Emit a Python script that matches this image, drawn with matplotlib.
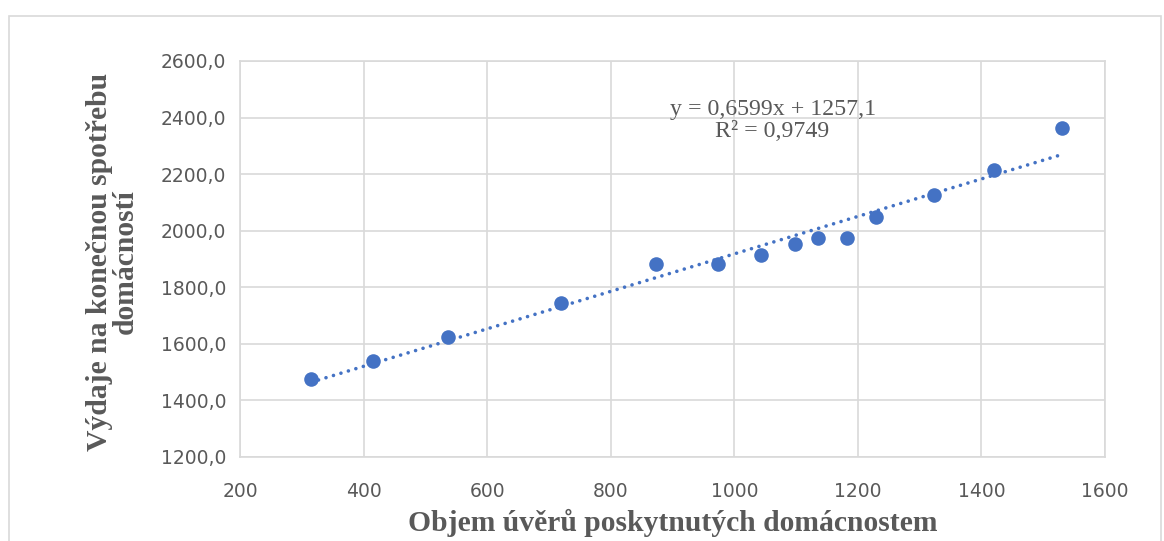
import numpy as np
import matplotlib.pyplot as plt
from matplotlib.patches import Rectangle

# data
uvery = [315, 415, 536, 720, 874, 974, 1044, 1099, 1135, 1182, 1230, 1324, 1420, 1530]
vydaje = [1477, 1541, 1624, 1744, 1882, 1884, 1913, 1953, 1973, 1975, 2047, 2128, 2216, 2362]
x_ticks = [200, 400, 600, 800, 1000, 1200, 1400, 1600]
y_ticks = [1200, 1400, 1600, 1800, 2000, 2200, 2400, 2600]
eq_text = "y = 0,6599x + 1257,1\nR² = 0,9749"

blue = "#4472C4"
grid_c = "#D9D9D9"
text_c = "#595959"

fig = plt.figure(figsize=(11.64, 5.41), dpi=100)
fig.patches.append(Rectangle((9 / 1164, -0.05), 1152 / 1164, 1 - 16 / 541 + 0.05,
                             transform=fig.transFigure, fill=False,
                             edgecolor=grid_c, linewidth=1.2))

ax = fig.add_axes([240 / 1164, 1 - 457 / 541, 865 / 1164, 396 / 541])

# trendline over the data range
coef = np.polyfit(uvery, vydaje, 1)
xs = np.array([min(uvery), max(uvery)])
ax.plot(xs, np.polyval(coef, xs), color=blue, linewidth=2.6,
        linestyle=(0, (0.01, 2.15)), dash_capstyle="round", zorder=2)
ax.scatter(uvery, vydaje, s=110, color=blue, zorder=3, linewidths=0)

ax.set_xlim(200, 1600)
ax.set_ylim(1200, 2600)
ax.set_xticks(x_ticks)
ax.set_yticks(y_ticks)
ax.set_yticklabels([f"{v},0" for v in y_ticks])
ax.tick_params(length=0, labelsize=13.5, labelcolor=text_c, pad=10)
ax.tick_params(axis="x", pad=18)
ax.grid(True, color=grid_c, linewidth=1.2)
ax.set_axisbelow(True)
for s in ax.spines.values():
    s.set_color(grid_c)
    s.set_linewidth(1.2)

fig.text(673 / 1164, 1 - 523 / 541, "Objem úvěrů poskytnutých domácnostem",
         family="Liberation Serif", fontweight="bold", fontsize=21.3, color=text_c,
         ha="center", va="center")
fig.text(112 / 1164, 1 - 262 / 541, "Výdaje na konečnou spotřebu\ndomácností",
         family="Liberation Serif", fontweight="bold", fontsize=21.3, color=text_c,
         ha="center", va="center", rotation=90, linespacing=0.95)

ax.text(1062, 2391, eq_text, family="Liberation Serif", fontsize=17.2, color=text_c,
        ha="center", va="center", linespacing=1.05)

fig.savefig("out.png", dpi=100)
